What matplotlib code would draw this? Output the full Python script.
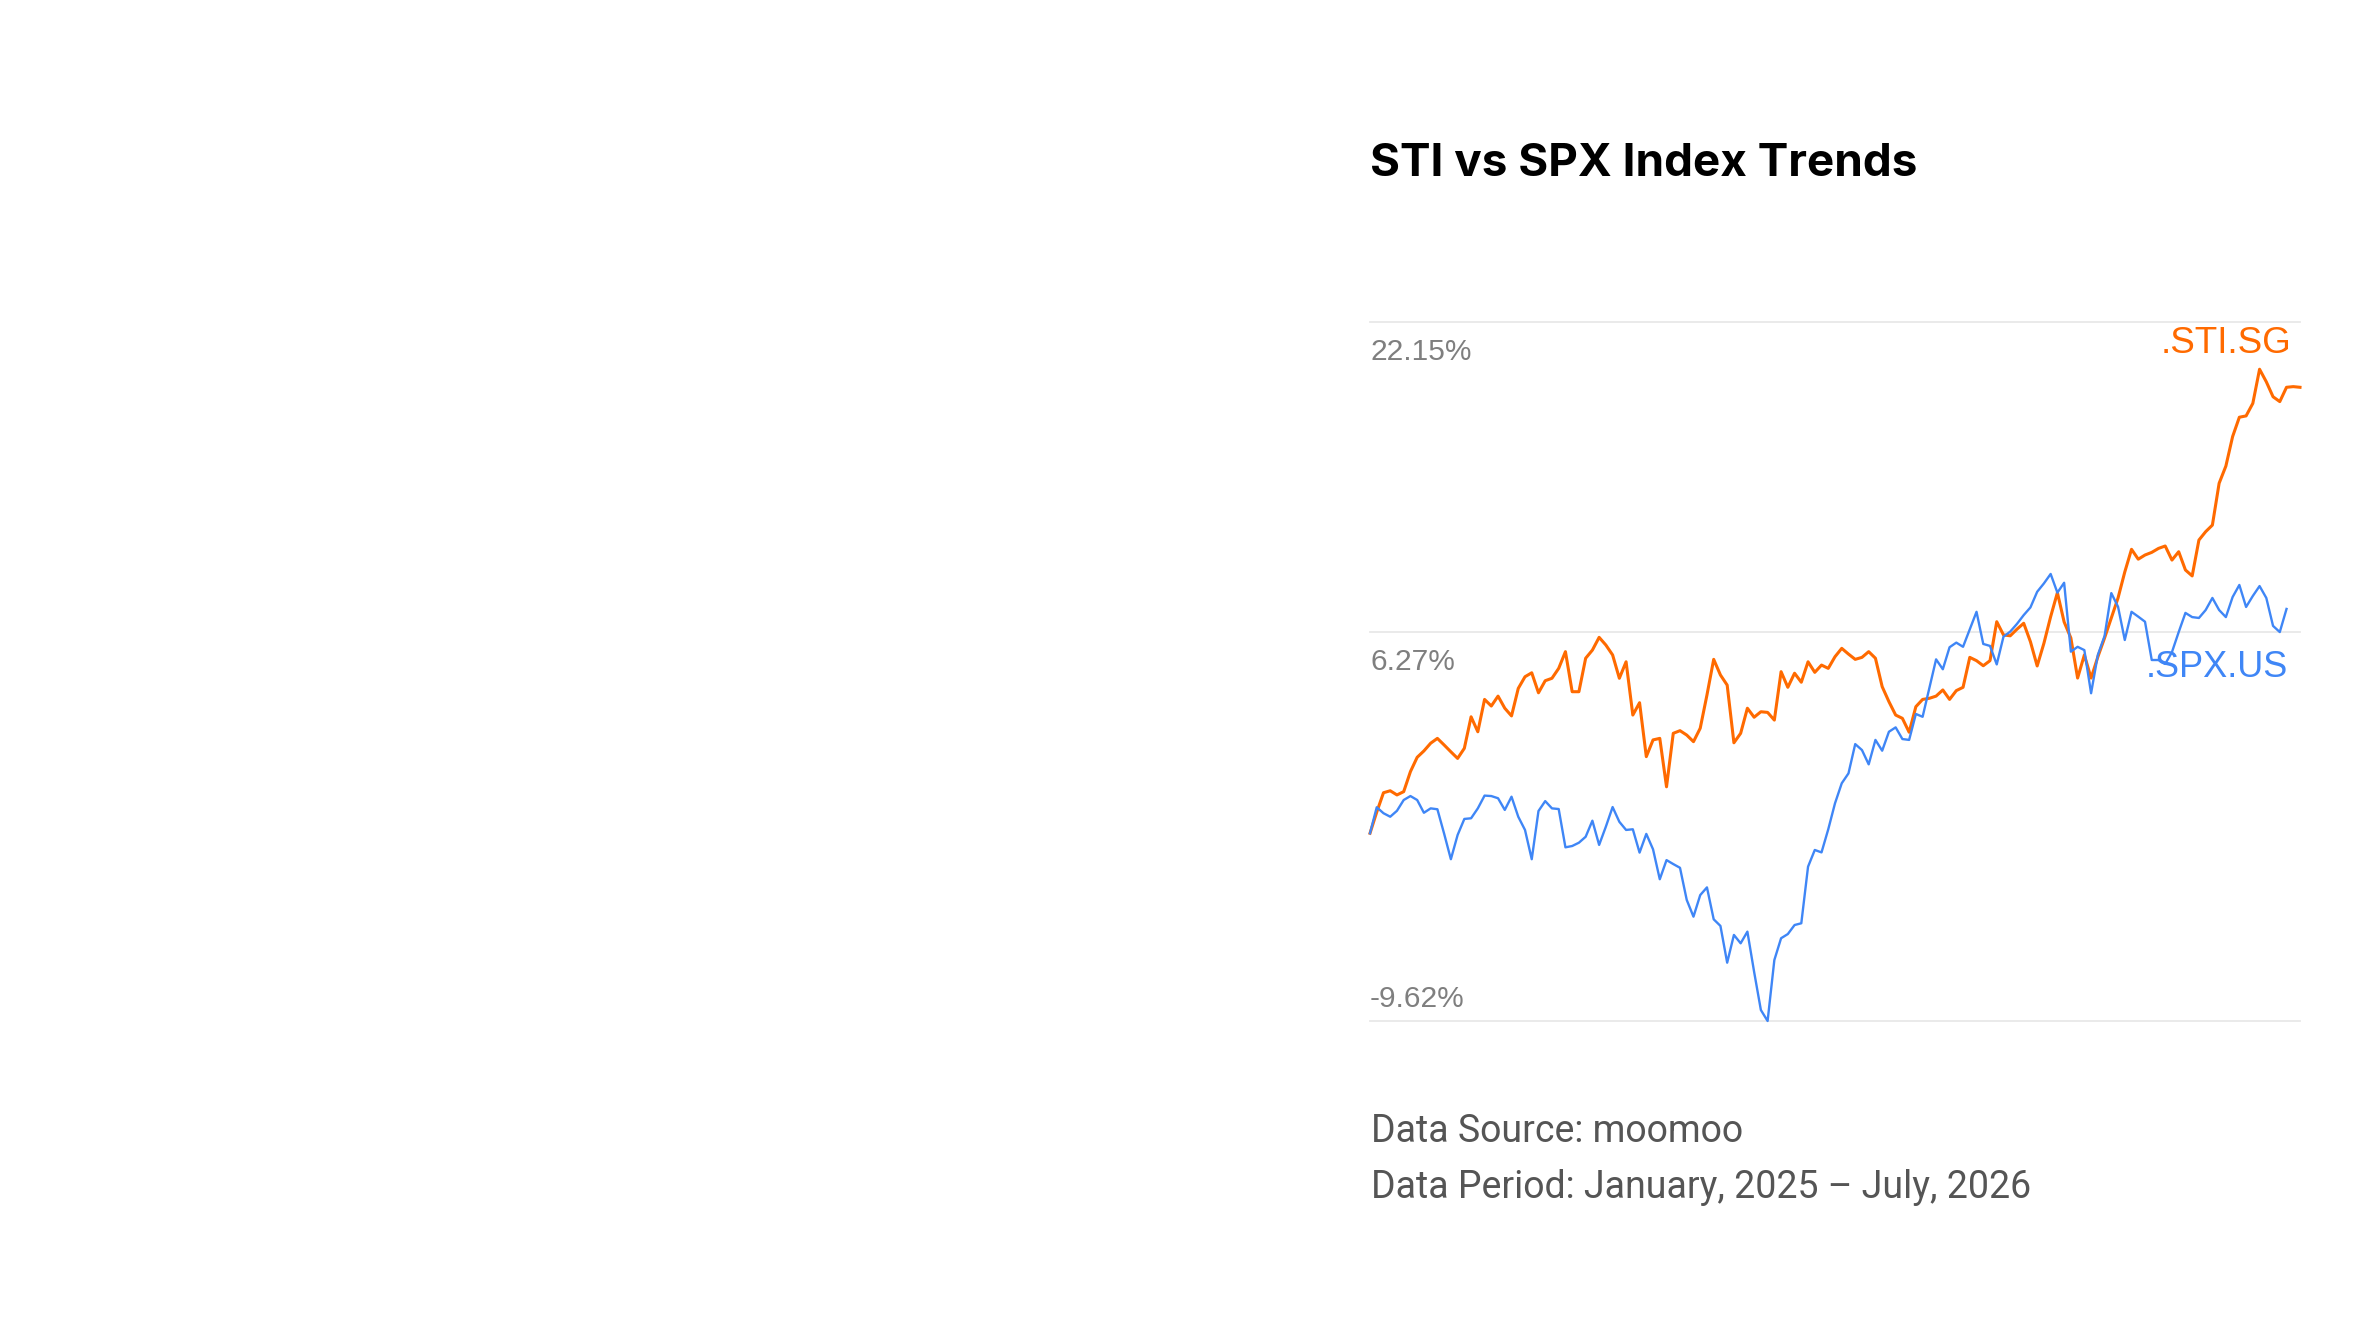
import matplotlib
matplotlib.use("Agg")
import matplotlib.pyplot as plt

# ---------------- data (cumulative return, %) ----------------
sti_values = [
    -1.09, -0.13, 0.75, 0.84, 0.65, 0.80, 1.71, 2.36, 2.65, 3.00,
    3.22, 2.92, 2.61, 2.31, 2.77, 4.20, 3.52, 4.99, 4.69, 5.14,
    4.59, 4.24, 5.49, 6.02, 6.20, 5.29, 5.84, 5.95, 6.40, 7.16,
    5.34, 5.34, 6.86, 7.23, 7.81, 7.46, 7.01, 5.95, 6.70, 4.28,
    4.84, 2.39, 3.15, 3.22, 1.02, 3.45, 3.57, 3.37, 3.07, 3.68,
    5.19, 6.81, 6.10, 5.64, 3.02, 3.45, 4.59, 4.18, 4.43, 4.40,
    4.05, 6.25, 5.54, 6.18, 5.77, 6.70, 6.22, 6.55, 6.40, 6.93,
    7.31, 7.05, 6.81, 6.90, 7.16, 6.86, 5.57, 4.89, 4.28, 4.13,
    3.50, 4.66, 4.99, 5.04, 5.14, 5.42, 4.99, 5.39, 5.54, 6.90,
    6.75, 6.52, 6.75, 8.52, 7.92, 7.88, 8.18, 8.45, 7.61, 6.51,
    7.54, 8.75, 9.84, 8.51, 7.78, 5.96, 7.01, 5.96, 6.92, 7.78,
    8.69, 9.60, 10.78, 11.81, 11.36, 11.55, 11.67, 11.85, 11.96, 11.32,
    11.70, 10.87, 10.60, 12.23, 12.61, 12.91, 14.81, 15.59, 16.93, 17.81,
    17.87, 18.44, 19.99, 19.42, 18.74, 18.52, 19.17, 19.20, 19.17,
]
spx_values = [
    -1.09, 0.09, -0.18, -0.34, -0.07, 0.42, 0.60, 0.42, -0.16, 0.04,
    0.00, -1.11, -2.27, -1.17, -0.44, -0.41, 0.04, 0.62, 0.60, 0.50,
    -0.03, 0.57, -0.34, -0.94, -2.27, -0.08, 0.37, 0.04, 0.01, -1.73,
    -1.67, -1.52, -1.25, -0.52, -1.62, -0.79, 0.10, -0.57, -0.94, -0.91,
    -1.97, -1.12, -1.82, -3.18, -2.31, -2.49, -2.66, -4.12, -4.88, -3.90,
    -3.55, -5.00, -5.30, -6.97, -5.71, -6.09, -5.56, -7.39, -9.12, -9.62,
    -6.85, -5.86, -5.67, -5.26, -5.18, -2.61, -1.85, -1.96, -0.91, 0.27,
    1.18, 1.63, 2.96, 2.69, 2.04, 3.15, 2.66, 3.52, 3.72, 3.19,
    3.15, 4.33, 4.20, 5.51, 6.81, 6.36, 7.36, 7.57, 7.38, 8.18,
    8.97, 7.51, 7.42, 6.58, 7.84, 8.07, 8.42, 8.82, 9.17, 9.88,
    10.26, 10.69, 9.84, 10.29, 7.16, 7.38, 7.23, 5.27, 7.01, 7.87,
    9.82, 9.20, 7.69, 8.97, 8.75, 8.52, 6.78, 6.78, 6.60, 7.14,
    8.05, 8.92, 8.73, 8.69, 9.05, 9.60, 9.05, 8.73, 9.64, 10.19,
    9.19, 9.69, 10.14, 9.60, 8.33, 8.05, 9.10,
]
grid_levels = [22.15, 8.07, -9.62]
tick_labels = ["22.15%", "6.27%", "-9.62%"]
series_names = [".STI.SG", ".SPX.US"]
title_text = "STI vs SPX Index Trends"
footnotes = ["Data Source: moomoo", "Data Period: January, 2025 \u2013 July, 2026"]

# ---------------- style ----------------
W, H = 2360, 1339
ORANGE = "#ff6a00"
BLUE = "#3f86f6"
GRID = "#e8e8e8"
TICK = "#7f7f7f"
FOOT = "#555555"

def fx(x):
    return x / W

def fy(y):
    return 1 - y / H

fig = plt.figure(figsize=(W / 100, H / 100), dpi=100)
fig.patch.set_facecolor("white")

left, right, top, bottom = 1370, 2300, 321.7, 1021
ax = fig.add_axes([fx(left), fy(bottom), fx(right - left), (bottom - top) / H])
ax.set_facecolor("none")
for s in ax.spines.values():
    s.set_visible(False)
ax.set_xticks([])
ax.set_yticks([])

n_x = len(sti_values)
ax.set_xlim(0, n_x - 1)
ax.set_ylim(grid_levels[-1], grid_levels[0])

for g in grid_levels:
    ax.axhline(g, color=GRID, lw=1.3, zorder=0, clip_on=False)

ax.plot(range(len(sti_values)), sti_values, color=ORANGE, lw=2.2,
        solid_joinstyle="round", zorder=2, clip_on=False)
ax.plot(range(len(spx_values)), spx_values, color=BLUE, lw=1.7,
        solid_joinstyle="round", zorder=3, clip_on=False)

# value labels on the gridlines
offsets = [-38.7, -38.3, 14.0]
for g, lab, off in zip(grid_levels, tick_labels, offsets):
    ax.annotate(lab, xy=(0, g), xycoords=("axes fraction", "data"),
                xytext=(0, off), textcoords="offset pixels",
                ha="left", va="baseline", fontsize=21.5, color=TICK,
                family="Liberation Sans")

# series labels
fig.text(fx(2291), fy(352.7), series_names[0], ha="right", va="baseline",
         fontsize=26.5, color=ORANGE, family="Liberation Sans")
fig.text(fx(2288), fy(677.3), series_names[1], ha="right", va="baseline",
         fontsize=26, color=BLUE, family="Liberation Sans")

# title & footnotes
fig.text(fx(1370), fy(175.7), title_text, ha="left", va="baseline",
         fontsize=33, fontweight="bold", color="black", family="Inter")
fig.text(fx(1371), fy(1141.7), footnotes[0], ha="left", va="baseline",
         fontsize=27, color=FOOT, family="Roboto")
fig.text(fx(1371), fy(1198.3), footnotes[1], ha="left", va="baseline",
         fontsize=27, color=FOOT, family="Roboto")

fig.savefig("out.png", dpi=100, facecolor="white")
